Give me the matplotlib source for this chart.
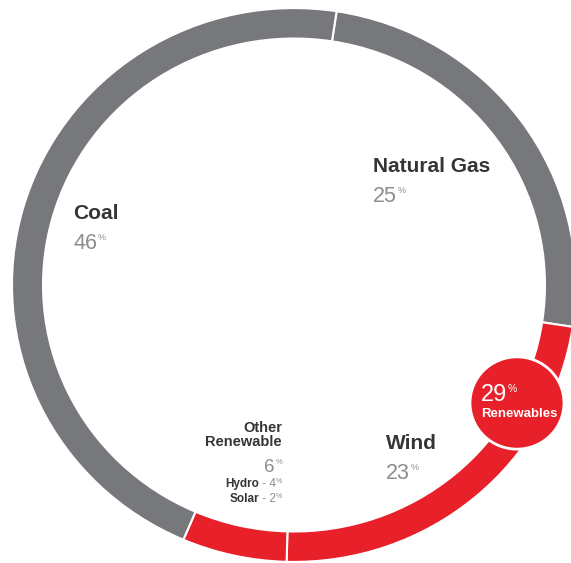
import matplotlib
matplotlib.use("Agg")
import matplotlib.pyplot as plt
from matplotlib.patches import Circle

# data, clockwise from the top boundary
labels = ["Natural Gas", "Wind", "Other Renewable", "Coal"]
shares = [25, 23, 6, 46]
seg_colors = ["#77787b", "#e8202a", "#e8202a", "#77787b"]
sub_labels = ["Hydro", "Solar"]
sub_shares = [4, 2]
renew_total = 29

W, H = 571, 563
SY = 0.982  # the source picture is squashed a little vertically
fig = plt.figure(figsize=(W / 100, H / 100), dpi=100)
ax = fig.add_axes([0, 0, 1, 1])


def y(p):
    # pixel row from top -> data y
    return (H - p) / SY


cx, cy = 294, y(285)
R, ring_w = 282, 31
ax.pie(shares, colors=seg_colors, startangle=81.3, counterclock=False,
       radius=R, center=(cx, cy),
       wedgeprops=dict(width=ring_w, edgecolor="white", linewidth=1.5))

ax.set_aspect("auto")
ax.set_xlim(0, W)
ax.set_ylim(0, H / SY)
ax.axis("off")

FONT = ["Liberation Sans", "DejaVu Sans"]
DARK = "#353535"
GREY = "#8d8d8d"
renderer = fig.canvas.get_renderer()


def run(x, ptop, pieces, ha="left", gap=0):
    # pieces: list of (text, size, weight, color) drawn left to right, top aligned
    objs = []
    for s, size, weight, col in pieces:
        t = ax.text(0, y(ptop), s, fontsize=size, weight=weight, color=col,
                    family=FONT, va="top", ha="left", zorder=6)
        objs.append(t)
    widths = [t.get_window_extent(renderer).width + gap for t in objs]
    total = sum(widths) - gap
    start = x - total if ha == "right" else x
    for t, w in zip(objs, widths):
        t.set_x(start)
        start += w
    return objs


def big_label(x, ptop, name, val):
    run(x, ptop, [(name, 15, "bold", DARK)])
    run(x, ptop + 29, [(str(val), 15.5, "normal", GREY),
                       ("%", 6.5, "normal", GREY)], gap=1)


big_label(373, 157, labels[0], shares[0])
big_label(73, 204, labels[3], shares[3])
big_label(386, 434, labels[1], shares[1])

# other renewable block, right aligned
rx = 282
run(rx, 421, [("Other", 10.5, "bold", DARK)], ha="right")
run(rx, 435, [("Renewable", 10.5, "bold", DARK)], ha="right")
run(rx, 459, [(str(shares[2]), 13.5, "normal", GREY),
              ("%", 5.5, "normal", GREY)], ha="right", gap=1)
for i, (n, v) in enumerate(zip(sub_labels, sub_shares)):
    run(rx, 478 + i * 15, [(n, 8.5, "bold", DARK),
                           (" - " + str(v), 8.5, "normal", GREY),
                           ("%", 5, "normal", GREY)], ha="right")

# renewables bubble
ax.add_patch(Circle((517, y(403)), 47, facecolor="#e8202a", edgecolor="white",
                    linewidth=2, zorder=5))
run(481, 384, [(str(renew_total), 17, "normal", "white"),
               ("%", 7.5, "normal", "white")])
run(481, 408, [("Renewables", 9.5, "bold", "white")])

fig.savefig("out.png", dpi=100)
